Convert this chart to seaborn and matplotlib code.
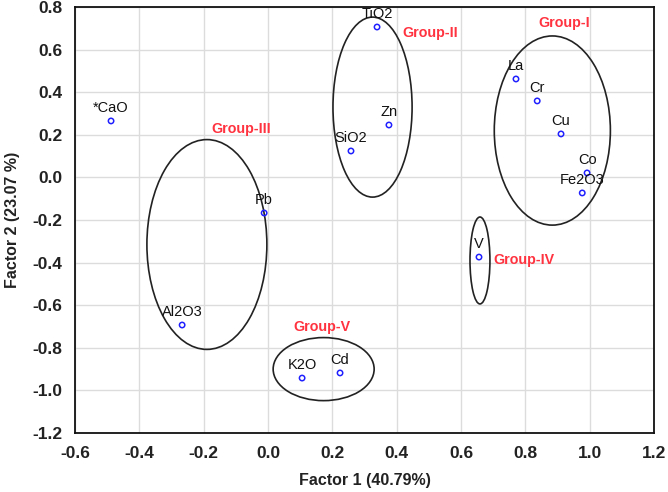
import matplotlib
matplotlib.use("Agg")
import matplotlib.pyplot as plt
from matplotlib.patches import Ellipse
import seaborn as sns
import pandas as pd

# ---- data ----
variables = ["*CaO", "Pb", "Al2O3", "K2O", "Cd", "TiO2", "Zn", "SiO2",
             "La", "Cr", "Cu", "Co", "Fe2O3", "V"]
factor1 = [-0.488, -0.012, -0.267, 0.106, 0.224, 0.339, 0.376, 0.258,
           0.771, 0.837, 0.911, 0.992, 0.977, 0.656]
factor2 = [0.265, -0.167, -0.693, -0.942, -0.918, 0.706, 0.246, 0.124,
           0.462, 0.359, 0.204, 0.021, -0.073, -0.374]

group_names = ["Group-I", "Group-II", "Group-III", "Group-IV", "Group-V"]
group_cx = [0.884, 0.325, -0.190, 0.659, 0.173]
group_cy = [0.220, 0.330, -0.315, -0.390, -0.900]
group_w = [0.361, 0.246, 0.373, 0.062, 0.314]
group_h = [0.888, 0.845, 0.985, 0.408, 0.296]
group_label_x = [0.920, 0.504, -0.082, 0.797, 0.168]
group_label_y = [0.725, 0.678, 0.227, -0.390, -0.700]

xticks = [-0.6, -0.4, -0.2, 0.0, 0.2, 0.4, 0.6, 0.8, 1.0, 1.2]
yticks = [-1.2, -1.0, -0.8, -0.6, -0.4, -0.2, 0.0, 0.2, 0.4, 0.6, 0.8]

df = pd.DataFrame({"var": variables, "f1": factor1, "f2": factor2})

sns.set_style("white")
plt.rcParams["font.family"] = ["Liberation Sans", "DejaVu Sans"]

fig = plt.figure(figsize=(6.68, 4.92), dpi=100)
ax = fig.add_axes([0.1123, 0.1199, 0.979 - 0.1123, 0.9858 - 0.1199])

ax.grid(True, color="#dcdcdc", linewidth=1.0, zorder=0)
ax.set_axisbelow(True)

sns.scatterplot(data=df, x="f1", y="f2", ax=ax, marker="o", s=15,
                facecolors="none", edgecolor="#2020ff", linewidth=1.1,
                zorder=3, legend=False)

for name, x, y in zip(variables, factor1, factor2):
    ax.annotate(name, (x, y), xytext=(0, 4.5), textcoords="offset points",
                ha="center", va="bottom", fontsize=10.5, color="#111111",
                zorder=4)

for cx, cy, w, h in zip(group_cx, group_cy, group_w, group_h):
    ax.add_patch(Ellipse((cx, cy), w, h, fill=False, edgecolor="#222222",
                         linewidth=1.2, zorder=2))

for name, x, y in zip(group_names, group_label_x, group_label_y):
    ax.text(x, y, name, ha="center", va="center", fontsize=10.3,
            fontweight="bold", color="#ff3340", zorder=4)

ax.set_xlim(-0.6, 1.2)
ax.set_ylim(-1.2, 0.8)
ax.set_xticks(xticks)
ax.set_yticks(yticks)
ax.set_xticklabels([f"{t:.1f}" for t in xticks])
ax.set_yticklabels([f"{t:.1f}" for t in yticks])
ax.tick_params(axis="both", labelsize=12.5, colors="#222222", length=4,
               direction="in", width=1.0)
for lab in ax.get_xticklabels() + ax.get_yticklabels():
    lab.set_fontweight("bold")
ax.tick_params(axis="x", pad=9)
ax.tick_params(axis="y", pad=9)

for sp in ax.spines.values():
    sp.set_visible(True)
    sp.set_color("#111111")
    sp.set_linewidth(1.3)

ax.set_xlabel("Factor 1 (40.79%)", fontsize=11.5, fontweight="bold",
              color="#222222", labelpad=9)
ax.set_ylabel("Factor 2 (23.07 %)", fontsize=11.5, fontweight="bold",
              color="#222222", labelpad=9)

fig.savefig("out.png", dpi=100)
